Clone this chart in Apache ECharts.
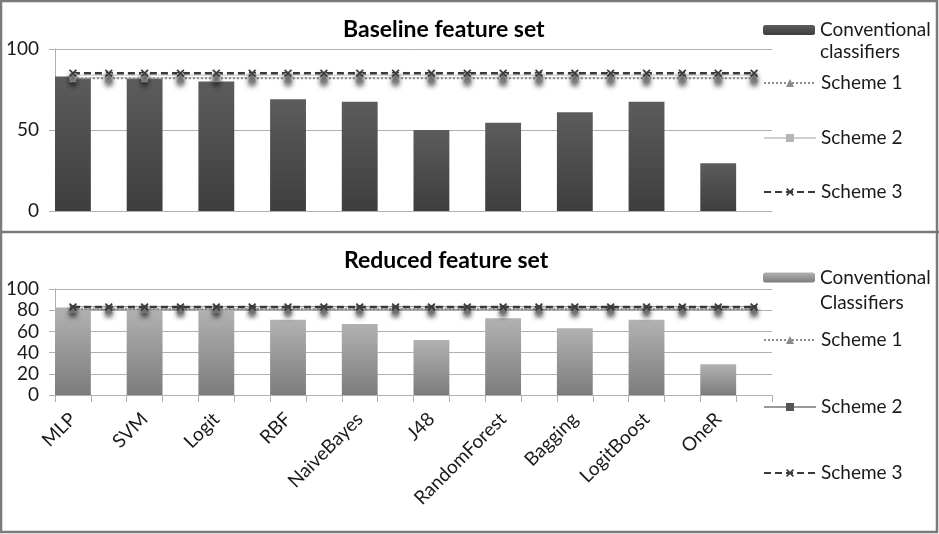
<!DOCTYPE html>
<html><head><meta charset="utf-8">
<script src="https://cdn.jsdelivr.net/npm/echarts@6/dist/echarts.min.js"></script>
<style>html,body{margin:0;padding:0;background:#fff}#c{width:939px;height:534px}</style>
</head><body><div id="c"></div>
<script>
const categories = ["MLP","SVM","Logit","RBF","NaiveBayes","J48","RandomForest","Bagging","LogitBoost","OneR"];
const baselineConventional = [83, 82, 80, 69, 67.5, 50, 54.5, 61, 67.5, 29.5];
const reducedConventional = [82.5, 81.5, 81, 71, 67, 52, 72.5, 63, 71, 29];
// line series: one point per half-category slot (20 points)
const baselineScheme1 = [82,82,82,82,82,82,82,82,82,82,82,82,82,82,82,82,82,82,82,82];
const baselineScheme2 = [83,83,83,83,83,83,83,83,83,83,83,83,83,83,83,83,83,83,83,83];
const baselineScheme3 = [85,85,85,85,85,85,85,85,85,85,85,85,85,85,85,85,85,85,85,85];
const reducedScheme1 = [81,81,81,81,81,81,81,81,81,81,81,81,81,81,81,81,81,81,81,81];
const reducedScheme2 = [82,82,82,82,82,82,82,82,82,82,82,82,82,82,82,82,82,82,82,82];
const reducedScheme3 = [83,83,83,83,83,83,83,83,83,83,83,83,83,83,83,83,83,83,83,83];
const topTicks = [0, 50, 100];
const bottomTicks = [0, 20, 40, 60, 80, 100];

const FONT = 'Lato';
const axisCats = [];
const baseBars = [];
const redBars = [];
categories.forEach((c, i) => {
  axisCats.push(c); axisCats.push(' '.repeat(i + 1));
  baseBars.push(baselineConventional[i]); baseBars.push('-');
  redBars.push(reducedConventional[i]); redBars.push('-');
});
const xShape = 'path://M0,1.5L1.5,0L5,3.5L8.5,0L10,1.5L6.5,5L10,8.5L8.5,10L5,6.5L1.5,10L0,8.5L3.5,5Z';
const shadow = {shadowBlur: 5, shadowOffsetY: 4, shadowColor: 'rgba(0,0,0,0.5)'};

function yAxis(gi, step, max) {
  return {
    type: 'value', gridIndex: gi, min: 0, max: max, interval: step,
    axisLine: {show: true, lineStyle: {color: '#b0b0b0'}},
    axisTick: {show: true, length: 6, lineStyle: {color: '#b0b0b0'}},
    axisLabel: {fontFamily: FONT, fontSize: 19, color: '#1a1a1a', margin: 16},
    splitLine: {lineStyle: {color: '#b0b0b0', width: 1}}
  };
}
function lineSeries(name, data, xi, opts) {
  return Object.assign({
    name: name, type: 'line', xAxisIndex: xi, yAxisIndex: xi, data: data,
    animation: false, z: 3
  }, opts);
}
function singleLegend(name, left, top, text, lh) {
  return {
    data: [name], left: left, top: top, padding: 0, itemWidth: 52, itemHeight: 10,
    selectedMode: false,
    formatter: () => text,
    textStyle: {fontFamily: FONT, fontSize: 19, color: '#1a1a1a', lineHeight: lh}
  };
}

const option = {
  animation: false,
  title: [
    {text: 'Baseline feature set', left: 338, top: 13, textStyle: {fontFamily: FONT, fontWeight: 'bold', fontSize: 23, color: '#000'}},
    {text: 'Reduced feature set', left: 339, top: 244, textStyle: {fontFamily: FONT, fontWeight: 'bold', fontSize: 23, color: '#000'}}
  ],
  grid: [
    {left: 55, top: 49, width: 717, height: 162},
    {left: 55, top: 289, width: 717, height: 106}
  ],
  xAxis: [
    {type: 'category', gridIndex: 0, data: axisCats, boundaryGap: true,
     axisLine: {lineStyle: {color: '#b0b0b0'}}, axisTick: {show: false}, axisLabel: {show: false}},
    {type: 'category', gridIndex: 1, data: axisCats, boundaryGap: true,
     axisLine: {lineStyle: {color: '#b0b0b0'}},
     axisTick: {show: true, interval: 0, length: 7, lineStyle: {color: '#b0b0b0'}},
     axisLabel: {interval: 0, rotate: 45, fontFamily: FONT, fontSize: 19, color: '#1a1a1a', margin: 21}}
  ],
  yAxis: [yAxis(0, 50, 100), yAxis(1, 20, 100)],
  legend: [
    singleLegend('Conventional classifiers', 763, -3, '\nConventional\nclassifiers', 22),
    singleLegend('Scheme 1', 763, 73, 'Scheme 1', 20),
    singleLegend('Scheme 2', 763, 128, 'Scheme 2', 20),
    singleLegend('Scheme 3', 763, 182, 'Scheme 3', 20),
    singleLegend('Conventional Classifiers', 763, 240, '\nConventional\nClassifiers', 25),
    singleLegend('Scheme 1 (reduced)', 763, 330, 'Scheme 1', 20),
    singleLegend('Scheme 2 (reduced)', 763, 397, 'Scheme 2', 20),
    singleLegend('Scheme 3 (reduced)', 763, 463, 'Scheme 3', 20)
  ],
  series: [
    {name: 'Conventional classifiers', type: 'bar', xAxisIndex: 0, yAxisIndex: 0, data: baseBars,
     barWidth: '100%', barGap: '0%', z: 2,
     itemStyle: {color: new echarts.graphic.LinearGradient(0, 0, 0, 1, [{offset: 0, color: '#5c5c5c'}, {offset: 1, color: '#3e3e3e'}])}},
    {name: 'Conventional Classifiers', type: 'bar', xAxisIndex: 1, yAxisIndex: 1, data: redBars,
     barWidth: '100%', barGap: '0%', z: 2,
     itemStyle: {color: new echarts.graphic.LinearGradient(0, 0, 0, 1, [{offset: 0, color: '#b2b2b2'}, {offset: 1, color: '#7c7c7c'}])}},

    lineSeries('Scheme 2', baselineScheme2, 0, {symbol: 'rect', symbolSize: 7,
      lineStyle: {color: '#cfcfcf', width: 4}, itemStyle: Object.assign({color: '#b5b5b5'}, shadow)}),
    lineSeries('Scheme 2 inner', baselineScheme2, 0, {symbol: 'none', silent: true,
      lineStyle: {color: '#ffffff', width: 1.5}}),
    lineSeries('Scheme 1', baselineScheme1, 0, {symbol: 'triangle', symbolSize: 8,
      lineStyle: {color: '#8c8c8c', width: 2, type: [2, 2]}, itemStyle: Object.assign({color: '#8c8c8c'}, shadow)}),
    lineSeries('Scheme 3', baselineScheme3, 0, {symbol: xShape, symbolSize: 8,
      lineStyle: {color: '#3a3a3a', width: 2.5, type: [7, 4]}, itemStyle: Object.assign({color: '#3a3a3a'}, shadow)}),

    lineSeries('Scheme 2 (reduced)', reducedScheme2, 1, {symbol: 'rect', symbolSize: 6,
      lineStyle: {color: '#9a9a9a', width: 4}, itemStyle: Object.assign({color: '#555555'}, shadow)}),
    lineSeries('Scheme 2 inner (reduced)', reducedScheme2, 1, {symbol: 'none', silent: true,
      lineStyle: {color: '#ffffff', width: 1.5}}),
    lineSeries('Scheme 1 (reduced)', reducedScheme1, 1, {symbol: 'triangle', symbolSize: 8,
      lineStyle: {color: '#8c8c8c', width: 2, type: [2, 2]}, itemStyle: Object.assign({color: '#8c8c8c'}, shadow)}),
    lineSeries('Scheme 3 (reduced)', reducedScheme3, 1, {symbol: xShape, symbolSize: 8,
      lineStyle: {color: '#3a3a3a', width: 2.5, type: [7, 4]}, itemStyle: Object.assign({color: '#3a3a3a'}, shadow)})
  ],
  graphic: [
    {type: 'rect', silent: true, z: 100, shape: {x: 1, y: 1, width: 936, height: 531},
     style: {fill: 'none', stroke: '#7a7a7a', lineWidth: 2.5}},
    {type: 'line', silent: true, z: 100, shape: {x1: 0, y1: 232, x2: 939, y2: 232},
     style: {stroke: '#7a7a7a', lineWidth: 2.5}}
  ]
};
const chart = echarts.init(document.getElementById('c'), null, {renderer: 'canvas'});
chart.setOption(option);
</script>
</body></html>
